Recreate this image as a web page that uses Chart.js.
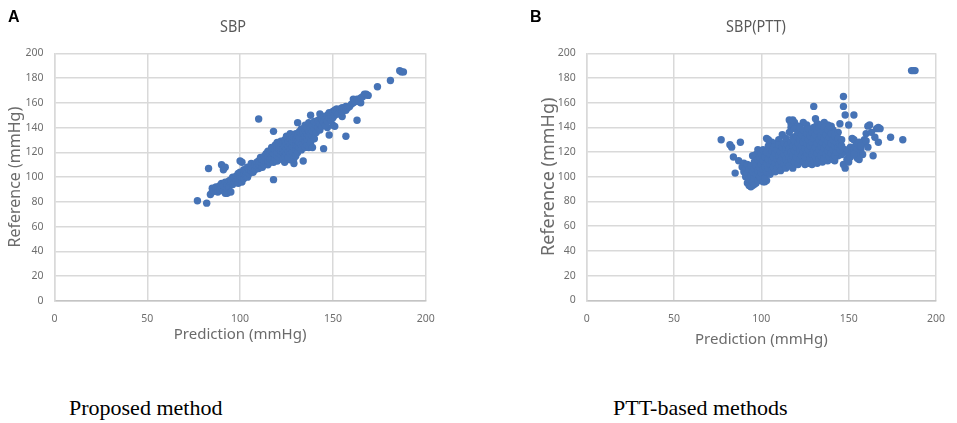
<!DOCTYPE html>
<html><head><meta charset="utf-8">
<script src="https://cdn.jsdelivr.net/npm/chart.js@4.4.1/dist/chart.umd.min.js"></script>
<style>
html,body{margin:0;padding:0;background:#fff;width:957px;height:423px;overflow:hidden;position:relative}
.box{position:absolute;top:0;height:360px}
.lbl{position:absolute;white-space:nowrap;line-height:1}
.panel{font-family:"Liberation Sans",Arial,sans-serif;font-weight:bold;font-size:16px;color:#000}
.ttl{font-family:"Noto Sans",sans-serif;font-size:17px;color:#595959;transform:translateX(-50%) scaleX(0.85)}
.cap{font-family:"Liberation Serif","Times New Roman",serif;font-size:22px;color:#000}
</style></head>
<body>
<div class="box" style="left:0;width:480px"><canvas id="cA"></canvas></div>
<div class="box" style="left:520px;width:437px"><canvas id="cB"></canvas></div>
<div class="lbl panel" style="left:8px;top:9px">A</div>
<div class="lbl panel" style="left:530px;top:9px">B</div>
<div class="lbl ttl" id="tA" style="left:233px;top:17px"></div>
<div class="lbl ttl" id="tB" style="left:756px;top:17px"></div>
<div class="lbl cap" id="capA" style="left:69px;top:397px"></div>
<div class="lbl cap" id="capB" style="left:613px;top:397px"></div>
<script>
// ---- text ----
const panelTitles = ["SBP", "SBP(PTT)"];
const panelCaptions = ["Proposed method", "PTT-based methods"];
const xAxisTitle = "Prediction (mmHg)";
const yAxisTitle = "Reference (mmHg)";
// ---- tick labels ----
const xTicks = [0, 50, 100, 150, 200];
const yTicks = [0, 20, 40, 60, 80, 100, 120, 140, 160, 180, 200];
// ---- data: [prediction, reference] ----
const sbpProposed = [
[77,81],[82,79],[83,107],[90,110],[91,106],[92,108],[110,147],[118,137],[118,98],[131,144],[134,113],[138,150],[145,123],[148,134],[151,141],[157,133],[163,146],[174,173],[181,178],[186,186],[187,185],[188,185],[167,167],[165,160],[161,163],[157,157],[154,154],[150,151],[143,151],[147,140],[150,142],[155,149],[133,131],[129,111],[122,115],[124,112],[127,114],
[84,86],[85,88],[85,91],[86,89],[87,90],[87,92],[88,88],[88,91],[89,93],[89,90],[90,92],[90,95],[91,89],[91,93],[92,96],[92,87],[93,87],[93,91],[93,94],[94,97],[94,92],[95,88],[95,95],[95,98],[96,94],[96,100],[97,96],[97,99],[98,97],[98,101],[99,95],[99,99],[99,103],[100,98],[100,101],[100,104],[100,113],[101,112],[101,96],[101,100],[102,99],[102,103],[102,106],[103,101],[103,105],[104,100],[104,104],[104,108],[105,103],[105,106],[106,105],[106,108],[106,111],[107,104],[107,107],[108,106],[108,110],[109,108],[109,112],[110,107],[110,110],[110,113],[111,109],[111,112],[111,116],[112,108],[112,111],[112,114],[113,110],[113,113],[113,117],[114,112],[114,115],[114,119],[115,110],[115,113],[115,117],[115,121],[116,112],[116,115],[116,119],[117,114],[117,117],[117,121],[117,124],[118,112],[118,116],[118,119],[118,123],[119,115],[119,118],[119,122],[119,126],[120,113],[120,117],[120,120],[120,124],[120,128],[121,116],[121,119],[121,123],[121,126],[122,118],[122,121],[122,125],[122,129],[123,114],[123,120],[123,123],[123,127],[124,117],[124,121],[124,125],[124,130],[125,119],[125,123],[125,127],[125,133],[126,116],[126,121],[126,125],[126,129],[127,119],[127,123],[127,127],[127,131],[127,135],[128,121],[128,125],[128,129],[128,133],[129,115],[129,124],[129,128],[129,132],[130,117],[130,122],[130,126],[130,130],[130,135],[131,120],[131,125],[131,129],[131,134],[132,124],[132,128],[132,132],[132,137],[133,122],[133,126],[133,135],[133,139],[134,127],[134,131],[134,136],[135,124],[135,129],[135,133],[135,138],[135,142],[136,126],[136,131],[136,135],[136,140],[137,124],[137,133],[137,137],[137,144],[138,128],[138,135],[138,140],[139,124],[139,137],[139,142],[140,131],[140,139],[140,145],[141,136],[141,142],[142,140],[142,146],[143,138],[143,143],[144,141],[144,147],[145,144],[145,149],[146,142],[146,147],[147,145],[147,150],[148,148],[148,152],[149,146],[149,150],[150,148],[150,153],[151,150],[151,154],[152,152],[152,155],[153,151],[154,155],[155,153],[155,156],[156,155],[157,154],[158,156],[159,157],[160,159],[161,160],[162,161],[163,163],[164,161],[165,164],[166,165],[168,167],[169,166]
];
const sbpPTT = [
[77,130],[83,124],[84,116],[87,113],[85,103],[88,128],[82,126],
[147,165],[147,157],[130,157],[131,147],[148,150],[153,150],[150,142],[145,143],[162,142],[166,139],[168,139],[174,132],[181,130],[187,186],[188,186],[186,186],[167,128],[164,117],[160,135],[156,124],[156,114],[149,114],[148,107],[147,110],[150,112],[152,131],[151,124],[153,130],[157,122],[158,118],[158,127],[155,119],[159,130],[161,124],[163,136],[165,132],
[150,118],[151,116],[152,120],[153,122],[154,125],[155,127],[154,120],[156,128],[157,125],[155,115],[153,118],[149,120],[148,122],[146,118],[144,117],[142,113],[143,133],[144,136],[141,138],[138,142],[136,144],[140,141],[132,143],[126,142],[124,144],[119,144],[116,146],[117,140],[121,141],[110,130],[108,127],[106,128],[103,131],[98,122],[97,118],[95,117],[94,94],[95,93],[97,95],[100,97],[102,96],[103,97],[161,141],[167,140],[160,129],
[89,108],[90,104],[90,111],[91,100],[91,107],[92,95],[92,103],[92,110],[93,93],[93,98],[93,106],[94,92],[94,101],[94,109],[95,96],[95,104],[96,94],[96,99],[96,107],[96,112],[97,102],[97,109],[98,97],[98,105],[98,114],[99,100],[99,108],[99,116],[100,103],[100,110],[100,119],[101,96],[101,106],[101,113],[101,122],[102,99],[102,108],[102,116],[103,104],[103,111],[103,120],[104,107],[104,114],[104,125],[104,130],[105,102],[105,110],[105,118],[106,105],[106,113],[106,121],[107,108],[107,116],[107,124],[108,104],[108,111],[108,119],[109,107],[109,114],[109,122],[110,110],[110,117],[110,126],[111,105],[111,113],[111,120],[112,108],[112,116],[112,124],[112,134],[113,110],[113,118],[113,127],[114,107],[114,114],[114,122],[114,131],[115,111],[115,119],[115,126],[116,109],[116,116],[116,123],[116,136],[117,114],[117,120],[117,128],[117,143],[118,107],[118,117],[118,125],[118,132],[118,146],[119,112],[119,121],[119,129],[119,139],[120,116],[120,124],[120,133],[121,110],[121,119],[121,127],[121,136],[122,114],[122,122],[122,130],[122,140],[123,117],[123,125],[123,134],[124,112],[124,120],[124,128],[124,138],[125,110],[125,116],[125,123],[125,131],[126,119],[126,127],[126,135],[127,111],[127,122],[127,130],[127,139],[128,115],[128,125],[128,133],[129,110],[129,118],[129,128],[129,136],[130,113],[130,121],[130,131],[130,140],[131,116],[131,124],[131,134],[132,111],[132,119],[132,127],[132,137],[133,114],[133,122],[133,130],[133,140],[134,117],[134,125],[134,133],[134,142],[135,112],[135,120],[135,128],[135,137],[136,115],[136,123],[136,131],[136,140],[137,118],[137,126],[137,134],[138,113],[138,121],[138,129],[138,138],[139,116],[139,124],[139,132],[139,141],[140,119],[140,127],[140,135],[141,114],[141,122],[141,130],[142,117],[142,125],[142,133],[143,120],[143,128],[144,124],[144,131],[145,122],[145,127],[146,125],[146,130]
];

document.getElementById('tA').textContent = panelTitles[0];
document.getElementById('tB').textContent = panelTitles[1];
document.getElementById('capA').textContent = panelCaptions[0];
document.getElementById('capB').textContent = panelCaptions[1];

const BLUE = '#4673b6';
const GRID = '#d9d9d9';
const TICKC = '#6e6e6e';
const TITLEC = '#6b6b6b';

function makeChart(id, pts, cfg) {
  return new Chart(document.getElementById(id), {
    type: 'scatter',
    data: { datasets: [{
      data: pts.map(p => ({x: p[0], y: p[1]})),
      backgroundColor: BLUE, borderColor: BLUE, borderWidth: 0,
      pointRadius: 3.7, pointHoverRadius: 3.7
    }]},
    options: {
      responsive: true, maintainAspectRatio: false, animation: false,
      layout: { padding: { left: cfg.padL, right: cfg.padR, top: 53.3, bottom: 0 } },
      plugins: { legend: { display: false }, tooltip: { enabled: false }, title: { display: false } },
      scales: {
        x: {
          type: 'linear', min: 0, max: 200,
          afterBuildTicks: s => { s.ticks = xTicks.map(v => ({value: v})); },
          afterFit: s => { s.height = cfg.xH; },
          grid: { color: GRID, lineWidth: 1.5, drawTicks: false },
          border: { color: '#c4c4c4', width: 1.5 },
          ticks: { color: TICKC, padding: 12, font: { family: 'Noto Sans', size: 10.5 }, maxRotation: 0 },
          title: { display: true, text: xAxisTitle, color: TITLEC,
                   font: { family: 'Noto Sans', size: 15 }, padding: { top: 0, bottom: cfg.xTitlePad } }
        },
        y: {
          type: 'linear', min: 0, max: 200,
          afterBuildTicks: s => { s.ticks = yTicks.map(v => ({value: v})); },
          afterFit: s => { s.width = cfg.yW; },
          grid: { color: GRID, lineWidth: 1.5, drawTicks: false },
          border: { color: GRID, width: 1.5 },
          ticks: { color: TICKC, padding: 11, font: { family: 'Noto Sans', size: 10.5 } },
          title: { display: true, text: yAxisTitle, color: TITLEC,
                   font: { family: 'Noto Sans', size: cfg.yTitleSize }, padding: { top: cfg.yTitlePad, bottom: 0 } }
        }
      }
    }
  });
}

makeChart('cA', sbpProposed, { padL: 0, padR: 54.3, xH: 59, yW: 54.5, xTitlePad: 16, yTitlePad: 6, yTitleSize: 16 });
makeChart('cB', sbpPTT, { padL: 10, padR: 15.7, xH: 59.7, yW: 56.7, xTitlePad: 11, yTitlePad: 8, yTitleSize: 18 });
</script>
</body></html>
